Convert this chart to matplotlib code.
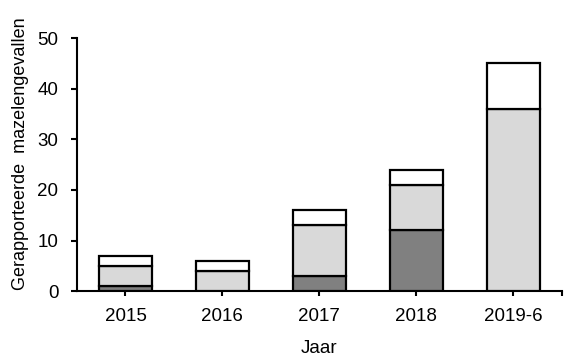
import matplotlib
matplotlib.use("Agg")
import matplotlib.pyplot as plt
import numpy as np

categories = ["2015", "2016", "2017", "2018", "2019-6"]
dark = [1, 0, 3, 12, 0]
light = [4, 4, 10, 9, 36]
white = [2, 2, 3, 3, 9]

plt.rcParams['font.family'] = ['Liberation Sans', 'DejaVu Sans']

fig = plt.figure(figsize=(5.79, 3.59), dpi=100)
ax = fig.add_axes([0.133, 0.189, 0.837, 0.705])

x = np.arange(len(categories))
w = 0.55
lw = 1.6
dark = np.array(dark); light = np.array(light); white = np.array(white)
for i in range(len(x)):
    if dark[i] > 0:
        ax.bar(x[i], dark[i], w, color="#808080", edgecolor="black", linewidth=lw, zorder=3)
ax.bar(x, light, w, bottom=dark, color="#d9d9d9", edgecolor="black", linewidth=lw, zorder=3)
ax.bar(x, white, w, bottom=dark + light, color="white", edgecolor="black", linewidth=lw, zorder=3)

ax.set_xlim(-0.5, 4.5)
ax.set_ylim(0, 50)
ax.set_yticks([0, 10, 20, 30, 40, 50])
ax.set_xticks(x)
ax.set_xticklabels(categories)
ax.set_xticks([4.5], minor=True)
ax.tick_params(axis='both', which='both', direction='out', width=1.5, labelsize=13.5, colors='black')
ax.tick_params(axis='x', which='both', length=3.5, pad=8.5)
ax.tick_params(axis='y', which='both', length=4.5, pad=9)
for s in ['top', 'right']:
    ax.spines[s].set_visible(False)
for s in ['left', 'bottom']:
    ax.spines[s].set_linewidth(1.5)

ax.set_xlabel("Jaar", fontsize=13.5, labelpad=11)
ax.set_ylabel("Gerapporteerde  mazelengevallen", fontsize=13, labelpad=5)
ax.yaxis.set_label_coords(-0.10, 0.545)

fig.savefig("out.png", dpi=100)
